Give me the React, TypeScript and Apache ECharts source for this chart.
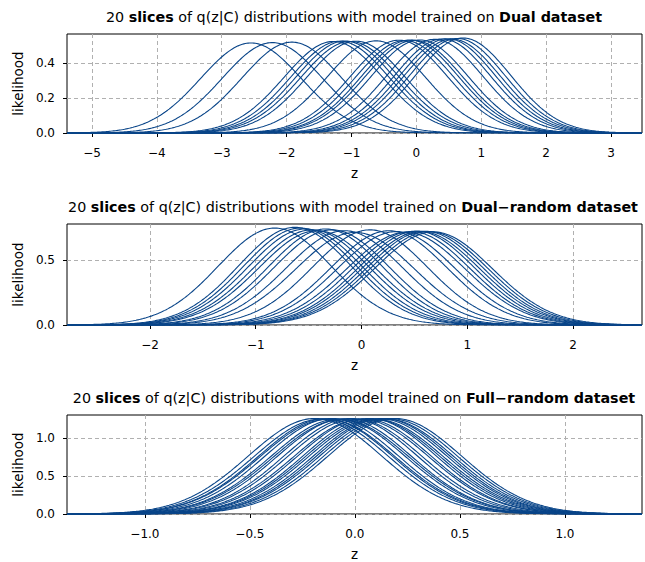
import React, { useEffect, useRef } from "react";
import * as echarts from "echarts";

// ---- data ----
const panelTitles = ["Dual dataset", "Dual\u2212random dataset", "Full\u2212random dataset"];

const dualMeans = [-2.55, -2.22, -1.92, -1.28, -1.18, -1.1, -1.02, -0.93, -0.62, -0.27, -0.18, -0.1, -0.04, 0.05, 0.28, 0.4, 0.48, 0.55, 0.63, 0.72];
const dualSigmas = [0.775, 0.772, 0.768, 0.762, 0.76, 0.758, 0.762, 0.76, 0.757, 0.752, 0.755, 0.75, 0.753, 0.75, 0.745, 0.742, 0.74, 0.743, 0.738, 0.735];

const dualRandomMeans = [-0.82, -0.63, -0.58, -0.53, -0.47, -0.42, -0.34, -0.28, -0.16, -0.06, 0.08, 0.26, 0.33, 0.42, 0.47, 0.52, 0.56, 0.6, 0.64, 0.68];
const dualRandomSigmas = [0.535, 0.531, 0.535, 0.54, 0.545, 0.55, 0.54, 0.545, 0.55, 0.56, 0.545, 0.55, 0.555, 0.56, 0.555, 0.552, 0.555, 0.553, 0.555, 0.557];

const fullRandomMeans = [-0.19, -0.16, -0.14, -0.13, -0.11, -0.08, -0.065, -0.05, -0.02, 0.0, 0.03, 0.045, 0.07, 0.085, 0.1, 0.12, 0.135, 0.15, 0.17, 0.19];
const fullRandomSigmas = [0.318, 0.32, 0.319, 0.321, 0.318, 0.32, 0.322, 0.319, 0.318, 0.32, 0.321, 0.319, 0.318, 0.32, 0.321, 0.319, 0.318, 0.32, 0.319, 0.318];

const dualXTicks = [-5, -4, -3, -2, -1, 0, 1, 2, 3];
const dualYTicks = [0, 0.2, 0.4];
const dualRandomXTicks = [-2, -1, 0, 1, 2];
const dualRandomYTicks = [0, 0.5];
const fullRandomXTicks = [-1, -0.5, 0, 0.5, 1];
const fullRandomYTicks = [0, 0.5, 1];

const xRanges = [[-5.385, 3.477], [-2.785, 2.653], [-1.371, 1.367]];
const yMaxes = [0.566, 0.777, 1.3];

const LINE = "#084488";
const FONT = "DejaVu Sans";

function gaussianCurve(mu: number, sigma: number, lo: number, hi: number) {
  const n = 400;
  const pts: number[][] = [];
  for (let k = 0; k <= n; k++) {
    const z = lo + ((hi - lo) * k) / n;
    const y = Math.exp(-((z - mu) * (z - mu)) / (2 * sigma * sigma)) / (sigma * Math.sqrt(2 * Math.PI));
    pts.push([z, y]);
  }
  return pts;
}

const minus = (s: string) => s.replace("-", "\u2212");

export default function App() {
  const ref = useRef<HTMLDivElement>(null);
  useEffect(() => {
    if (!ref.current) return;
    const chart = echarts.init(ref.current, undefined, { renderer: "svg" });
    const means = [dualMeans, dualRandomMeans, fullRandomMeans];
    const sigmas = [dualSigmas, dualRandomSigmas, fullRandomSigmas];
    const xTicks = [dualXTicks, dualRandomXTicks, fullRandomXTicks];
    const yTicks = [dualYTicks, dualRandomYTicks, fullRandomYTicks];
    const tops = [34, 224, 415];
    const heights = [99, 101, 100];
    const titleTops = [5, 195, 386];
    const titleCenters = [349, 348, 349];

    const grids = tops.map((t, i) => ({
      left: 67,
      right: 3,
      top: t,
      height: heights[i],
      show: true,
      borderColor: "#000",
      borderWidth: 1,
      backgroundColor: "transparent",
    }));

    const xAxes = [0, 1, 2].map((i) => ({
      type: "value",
      gridIndex: i,
      min: xRanges[i][0],
      max: xRanges[i][1],
      name: "z",
      nameLocation: "middle",
      nameGap: 33,
      nameTextStyle: { fontFamily: FONT, fontSize: 13.5, color: "#000" },
      axisLine: { show: false, onZero: false },
      axisTick: {
        show: true,
        length: 4,
        customValues: xTicks[i],
        lineStyle: { color: "#000", width: 1 },
      },
      axisLabel: {
        customValues: xTicks[i],
        margin: 14,
        fontFamily: FONT,
        fontSize: 12,
        color: "#000",
        formatter: (v: number) => minus(i === 2 ? v.toFixed(1) : String(v)),
      },
      splitLine: {
        show: true,
        lineStyle: { color: "#b0b0b0", type: [4, 3], width: 1 },
      },
    }));

    const yAxes = [0, 1, 2].map((i) => ({
      type: "value",
      gridIndex: i,
      min: 0,
      max: yMaxes[i],
      name: "likelihood",
      nameLocation: "middle",
      nameGap: 42,
      nameTextStyle: { fontFamily: FONT, fontSize: 13.5, color: "#000" },
      axisLine: { show: false, onZero: false },
      axisTick: {
        show: true,
        length: 4,
        customValues: yTicks[i],
        lineStyle: { color: "#000", width: 1 },
      },
      axisLabel: {
        customValues: yTicks[i],
        margin: 12,
        fontFamily: FONT,
        fontSize: 12,
        color: "#000",
        formatter: (v: number) => v.toFixed(1),
      },
      splitLine: {
        show: true,
        lineStyle: { color: "#b0b0b0", type: [4, 3], width: 1 },
      },
    }));

    const series: any[] = [];
    for (let p = 0; p < 3; p++) {
      for (let i = 0; i < means[p].length; i++) {
        series.push({
          type: "line",
          xAxisIndex: p,
          yAxisIndex: p,
          showSymbol: false,
          symbol: "none",
          silent: true,
          clip: true,
          data: gaussianCurve(means[p][i], sigmas[p][i], xRanges[p][0], xRanges[p][1]),
          lineStyle: { color: LINE, width: 1.1 },
        });
      }
    }

    const titles = panelTitles.map((t, i) => ({
      text: `{n|20 }{b|slices}{n| of q(z|C) distributions with model trained on }{b|${t}}`,
      left: titleCenters[i],
      top: titleTops[i],
      textAlign: "center",
      textStyle: {
        fontWeight: "normal",
        rich: {
          n: { fontFamily: FONT, fontSize: 14.3, fontWeight: "normal", color: "#000" },
          b: { fontFamily: FONT, fontSize: 14.3, fontWeight: "bold", color: "#000" },
        },
      },
    }));

    chart.setOption({
      animation: false,
      backgroundColor: "#fff",
      title: titles,
      grid: grids,
      xAxis: xAxes,
      yAxis: yAxes,
      series,
    });
    return () => chart.dispose();
  }, []);
  return (
    <div
      ref={ref}
      style={{ position: "absolute", left: 0, top: 0, width: 645, height: 562 }}
    />
  );
}
